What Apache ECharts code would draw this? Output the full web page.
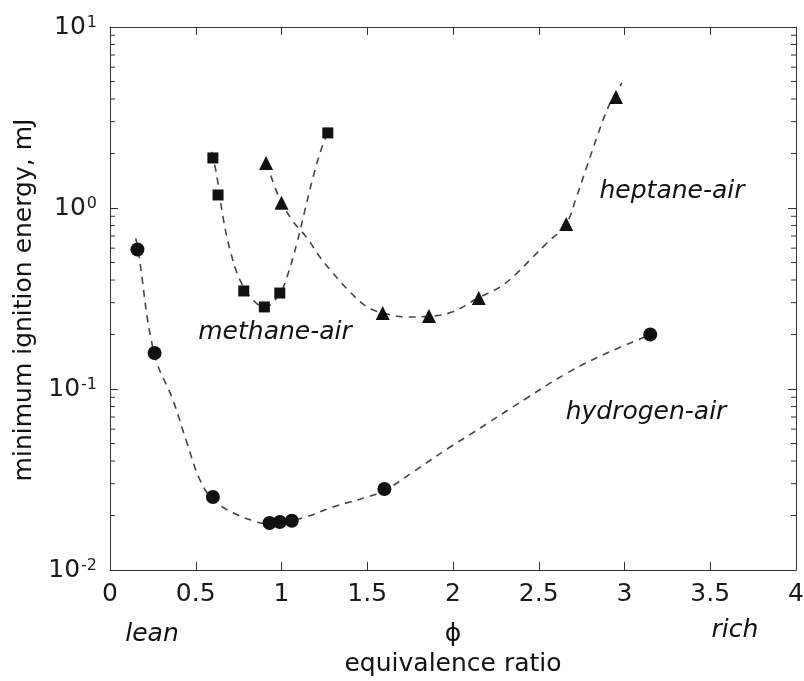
<!DOCTYPE html>
<html>
<head>
<meta charset="utf-8">
<script src="https://cdn.jsdelivr.net/npm/echarts@6/dist/echarts.min.js"></script>
<style>
  html, body { margin: 0; padding: 0; background: #fff; }
  #chart { width: 804px; height: 681px; }
</style>
</head>
<body>
<div id="chart"></div>
<script>
// measured points (equivalence ratio, minimum ignition energy in mJ)
const hydrogenPhi = [0.16, 0.26, 0.6, 0.93, 0.99, 1.06, 1.6, 3.15];
const hydrogenMIE = [0.59, 0.158, 0.0253, 0.0182, 0.0184, 0.0187, 0.028, 0.2];

const methanePhi = [0.6, 0.63, 0.78, 0.9, 0.99, 1.27];
const methaneMIE = [1.89, 1.18, 0.348, 0.284, 0.339, 2.6];

const heptanePhi = [0.91, 1.0, 1.59, 1.86, 2.15, 2.66, 2.95];
const heptaneMIE = [1.77, 1.07, 0.263, 0.253, 0.318, 0.816, 4.1];

// dashed fit curves
const hydrogenFitPhi = [0.15, 0.163, 0.257, 0.367, 0.449, 0.525, 0.6, 0.717, 0.834, 0.9, 1.0, 1.14, 1.3, 1.5, 1.615, 1.767, 1.983, 2.099, 2.431, 2.665, 2.898, 3.149];
const hydrogenFitMIE = [0.68, 0.593, 0.158, 0.0869, 0.0503, 0.0314, 0.0245, 0.0207, 0.0187, 0.0181, 0.0183, 0.0196, 0.0223, 0.0253, 0.028, 0.0348, 0.0478, 0.056, 0.0892, 0.1225, 0.158, 0.199];

const methaneFitPhi = [0.595, 0.624, 0.659, 0.70, 0.758, 0.834, 0.904, 0.991, 1.032, 1.09, 1.137, 1.184, 1.236, 1.27];
const methaneFitMIE = [2.04, 1.48, 0.891, 0.586, 0.400, 0.310, 0.284, 0.339, 0.416, 0.641, 0.975, 1.48, 2.17, 2.6];

const heptaneFitPhi = [0.915, 0.98, 1.061, 1.149, 1.224, 1.30, 1.399, 1.499, 1.592, 1.732, 1.854, 1.994, 2.146, 2.274, 2.373, 2.466, 2.548, 2.659, 2.72, 2.78, 2.84, 2.90, 2.945, 2.985];
const heptaneFitMIE = [1.77, 1.18, 0.859, 0.683, 0.536, 0.437, 0.344, 0.284, 0.263, 0.250, 0.252, 0.266, 0.318, 0.366, 0.437, 0.536, 0.641, 0.816, 1.15, 1.69, 2.47, 3.52, 4.26, 4.91];

// minor ticks of the log axis
const minorTickValues = [0.02, 0.03, 0.04, 0.05, 0.06, 0.07, 0.08, 0.09,
  0.2, 0.3, 0.4, 0.5, 0.6, 0.7, 0.8, 0.9,
  2, 3, 4, 5, 6, 7, 8, 9];

const FONT = 'DejaVu Sans';
const INK = '#111';
const AXIS = '#333';

function pairs(xs, ys) {
  return xs.map((x, i) => [x, ys[i]]);
}

const dom = document.getElementById('chart');
const myChart = echarts.init(dom, null, { renderer: 'canvas' });

const fitLine = {
  type: 'line',
  showSymbol: false,
  smooth: 0.4,
  silent: true,
  z: 2,
  lineStyle: { color: '#444', width: 1.6, type: [7, 6] }
};

const option = {
  animation: false,
  backgroundColor: '#fff',
  grid: { left: 110, right: 8, top: 27, bottom: 111, containLabel: false, outerBoundsMode: 'none' },
  xAxis: [
    {
      type: 'value',
      min: 0,
      max: 4,
      interval: 0.5,
      axisLine: { show: true, onZero: false, lineStyle: { color: AXIS, width: 1 } },
      axisTick: { show: true, inside: true, length: 8, lineStyle: { color: AXIS } },
      axisLabel: { color: '#1a1a1a', fontSize: 25, fontFamily: FONT, margin: 12 },
      splitLine: { show: false }
    },
    {
      type: 'value',
      position: 'top',
      min: 0,
      max: 4,
      interval: 0.5,
      axisLine: { show: true, onZero: false, lineStyle: { color: AXIS, width: 1 } },
      axisTick: { show: true, inside: true, length: 8, lineStyle: { color: AXIS } },
      axisLabel: { show: false },
      splitLine: { show: false }
    }
  ],
  yAxis: [
    {
      type: 'log',
      logBase: 10,
      min: 0.01,
      max: 10,
      axisLine: { show: true, onZero: false, lineStyle: { color: AXIS, width: 1 } },
      axisTick: { show: true, inside: true, length: 8, lineStyle: { color: AXIS } },
      axisLabel: {
        margin: 13,
        formatter: function (v) {
          const e = Math.round(Math.log10(v));
          return '{b|10}{s|' + e + '}';
        },
        rich: {
          b: { fontSize: 25, fontFamily: FONT, color: '#1a1a1a' },
          s: { fontSize: 16, fontFamily: FONT, color: '#1a1a1a', verticalAlign: 'top', padding: [0, 0, 4, 1] }
        }
      },
      splitLine: { show: false }
    },
    {
      type: 'log',
      logBase: 10,
      position: 'right',
      min: 0.01,
      max: 10,
      axisLine: { show: true, onZero: false, lineStyle: { color: AXIS, width: 1 } },
      axisTick: { show: true, inside: true, length: 8, lineStyle: { color: AXIS } },
      axisLabel: { show: false },
      splitLine: { show: false }
    }
  ],
  series: [
    {
      type: 'custom',
      silent: true,
      data: minorTickValues.map(v => [0, v]),
      renderItem: function (params, api) {
        const v = api.value(1);
        const pL = api.coord([0, v]);
        const pR = api.coord([4, v]);
        const st = { stroke: AXIS, lineWidth: 1 };
        return {
          type: 'group',
          children: [
            { type: 'line', shape: { x1: pL[0], y1: pL[1], x2: pL[0] + 5, y2: pL[1] }, style: st },
            { type: 'line', shape: { x1: pR[0], y1: pR[1], x2: pR[0] - 5, y2: pR[1] }, style: st }
          ]
        };
      }
    },
    Object.assign({ name: 'hydrogen-air fit', data: pairs(hydrogenFitPhi, hydrogenFitMIE) }, fitLine),
    Object.assign({ name: 'methane-air fit', data: pairs(methaneFitPhi, methaneFitMIE) }, fitLine),
    Object.assign({ name: 'heptane-air fit', data: pairs(heptaneFitPhi, heptaneFitMIE) }, fitLine),
    {
      name: 'hydrogen-air',
      type: 'scatter',
      symbol: 'circle',
      symbolSize: 14,
      itemStyle: { color: INK, opacity: 1 },
      z: 3,
      data: pairs(hydrogenPhi, hydrogenMIE)
    },
    {
      name: 'methane-air',
      type: 'scatter',
      symbol: 'rect',
      symbolSize: 11,
      itemStyle: { color: INK, opacity: 1 },
      z: 3,
      data: pairs(methanePhi, methaneMIE)
    },
    {
      name: 'heptane-air',
      type: 'scatter',
      symbol: 'triangle',
      symbolSize: 14,
      itemStyle: { color: INK, opacity: 1 },
      z: 3,
      data: pairs(heptanePhi, heptaneMIE)
    }
  ],
  graphic: [
    { type: 'text', x: 275, y: 332, style: { text: 'methane-air', fontSize: 25, fontStyle: 'italic', fontFamily: FONT, fill: INK, align: 'center', verticalAlign: 'middle' } },
    { type: 'text', x: 672, y: 191, style: { text: 'heptane-air', fontSize: 25, fontStyle: 'italic', fontFamily: FONT, fill: INK, align: 'center', verticalAlign: 'middle' } },
    { type: 'text', x: 646, y: 412, style: { text: 'hydrogen-air', fontSize: 25, fontStyle: 'italic', fontFamily: FONT, fill: INK, align: 'center', verticalAlign: 'middle' } },
    { type: 'text', x: 152, y: 634, style: { text: 'lean', fontSize: 25, fontStyle: 'italic', fontFamily: FONT, fill: INK, align: 'center', verticalAlign: 'middle' } },
    { type: 'text', x: 735, y: 630, style: { text: 'rich', fontSize: 25, fontStyle: 'italic', fontFamily: FONT, fill: INK, align: 'center', verticalAlign: 'middle' } },
    { type: 'text', x: 453, y: 634, style: { text: 'ϕ', fontSize: 25, fontFamily: FONT, fill: INK, align: 'center', verticalAlign: 'middle' } },
    { type: 'text', x: 453, y: 664, style: { text: 'equivalence ratio', fontSize: 25, fontFamily: FONT, fill: INK, align: 'center', verticalAlign: 'middle' } },
    { type: 'text', x: 24, y: 300, rotation: Math.PI / 2, style: { text: 'minimum ignition energy, mJ', fontSize: 25, fontFamily: FONT, fill: INK, align: 'center', verticalAlign: 'middle' } }
  ]
};

myChart.setOption(option);

window.addEventListener('resize', function () {
  myChart.resize();
});
</script>
</body>
</html>
